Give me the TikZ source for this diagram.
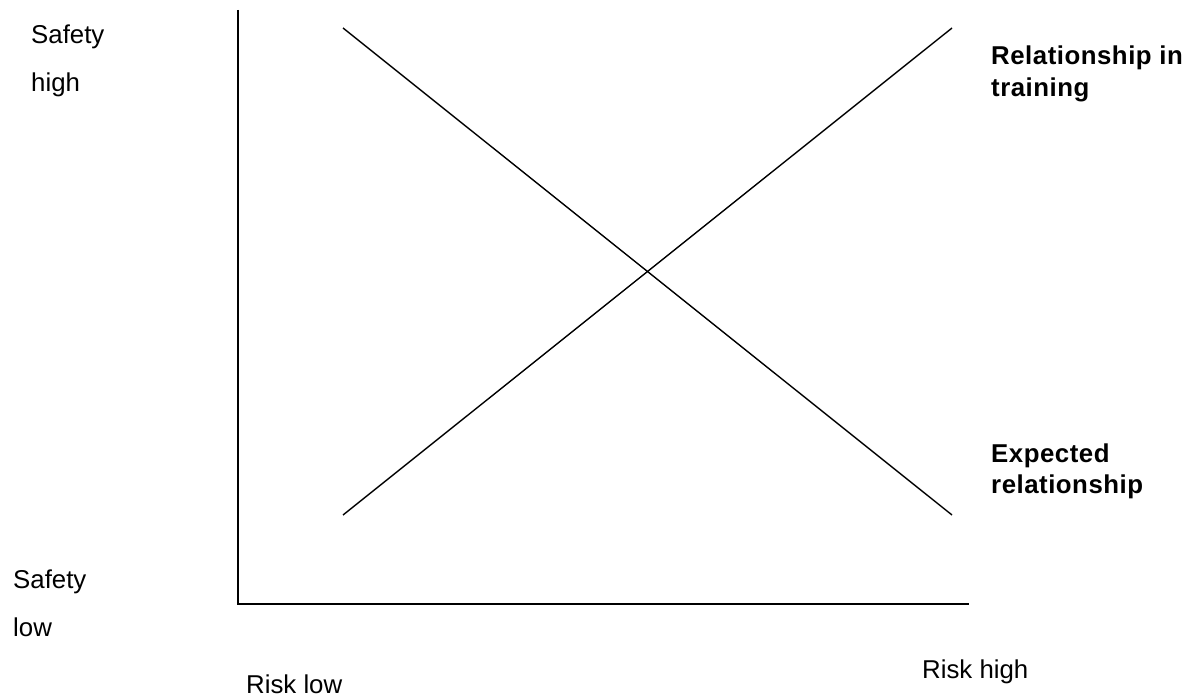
\documentclass[tikz,border=0pt]{standalone}
\usepackage{fontspec}
\setmainfont{Liberation Sans}
\begin{document}
\begin{tikzpicture}[x=1bp,y=-1bp,
  axis/.style={line width=1.6bp, black},
  relline/.style={line width=1.4bp, black},
  lbl/.style={anchor=base west, inner sep=0pt, font=\fontsize{25.8bp}{31bp}\selectfont},
  blbl/.style={anchor=base west, inner sep=0pt, font=\fontsize{25.8bp}{31.5bp}\selectfont\bfseries\addfontfeatures{LetterSpace=2}, align=left}]
\fill[white] (0,0) rectangle (1183,697);
\useasboundingbox (0,0) rectangle (1183,697);
% axes
\coordinate (O) at (238,604);
\coordinate (ytop) at (238,10);
\coordinate (xend) at (969,604);
\draw[axis] (ytop) -- (O) -- (xend);
% relationship lines
\coordinate (A1) at (343,28);
\coordinate (A2) at (952,515);
\coordinate (B1) at (343,515);
\coordinate (B2) at (952,28);
\draw[relline] (A1) -- (A2);
\draw[relline] (B1) -- (B2);
% labels
\node[lbl] (sh1) at (31,43.5) {Safety};
\node[lbl] (sh2) at (31,92) {high};
\node[lbl] (sl1) at (13,588) {Safety};
\node[lbl] (sl2) at (13,636) {low};
\node[lbl] (rl) at (246,693.5) {Risk low};
\node[lbl] (rh) at (922,678) {Risk high};
\node[blbl] (rt1) at (991,65) {Relationship in};
\node[blbl] (rt2) at (991,96.5) {training};
\node[blbl] (er1) at (991,462) {Expected};
\node[blbl] (er2) at (991,493) {relationship};
\end{tikzpicture}
\end{document}
